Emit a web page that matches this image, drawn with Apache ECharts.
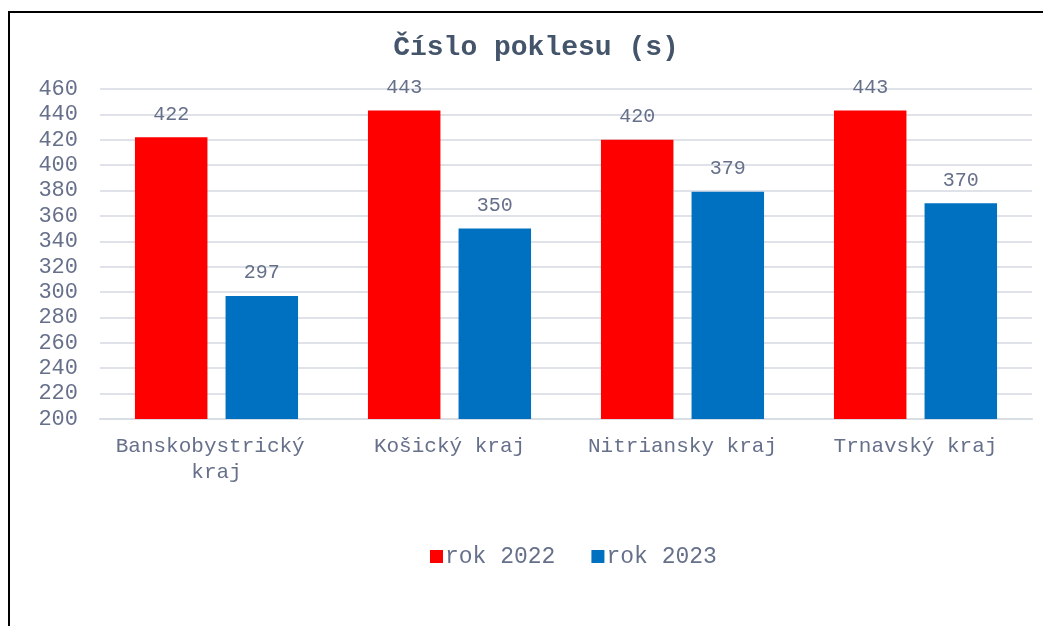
<!DOCTYPE html>
<html>
<head>
<meta charset="utf-8">
<script src="https://cdn.jsdelivr.net/npm/echarts@6/dist/echarts.min.js"></script>
<style>
  html, body { margin: 0; padding: 0; background: #fff; }
  #frame { position: absolute; left: 8px; top: 11px; width: 1100px; height: 700px;
           border-left: 2px solid #000; border-top: 2px solid #000; }
  #chart { position: absolute; left: 0; top: 0; width: 1043px; height: 626px; }
</style>
</head>
<body>
<div id="frame"></div>
<div id="chart"></div>
<script>
  const regions = ['Banskobystrický kraj', 'Košický kraj', 'Nitriansky kraj', 'Trnavský kraj'];
  const rok2022 = [422, 443, 420, 443];
  const rok2023 = [297, 350, 379, 370];
  const seriesNames = ['rok 2022', 'rok 2023'];

  const font = '"Liberation Mono", "DejaVu Sans Mono", monospace';
  const textColor = '#66708a';

  const myChart = echarts.init(document.getElementById('chart'));
  let option = {
    animation: false,
    title: {
      text: 'Číslo poklesu (s)',
      left: 531,
      top: 29,
      textAlign: 'center',
      textStyle: { fontFamily: font, fontSize: 28, fontWeight: 'bold', color: '#44546a' }
    },
    legend: {
      data: seriesNames,
      left: 425,
      top: 540,
      itemWidth: 13,
      itemHeight: 13,
      itemGap: 36,
      icon: 'rect',
      textStyle: { fontFamily: font, fontSize: 23, color: textColor, padding: [0, 0, 0, -3] }
    },
    grid: { left: 100, right: 11, top: 89, bottom: 207 },
    xAxis: {
      type: 'category',
      data: regions,
      axisLine: { lineStyle: { color: '#d9dde4', width: 2 } },
      axisTick: { show: false },
      axisLabel: {
        fontFamily: font, fontSize: 21, color: textColor, margin: 14,
        lineHeight: 26, width: 220, overflow: 'break', interval: 0
      }
    },
    yAxis: {
      type: 'value',
      min: 200,
      max: 460,
      interval: 20,
      axisLine: { show: false },
      axisTick: { show: false },
      splitLine: { lineStyle: { color: '#dfe2e8', width: 2 } },
      axisLabel: { fontFamily: font, fontSize: 22, color: textColor, margin: 22 }
    },
    series: [
      {
        name: seriesNames[0],
        type: 'bar',
        data: rok2022,
        itemStyle: { color: '#ff0000' },
        barGap: '25%',
        barCategoryGap: '30%',
        label: { show: true, position: 'top', distance: 13, fontFamily: font, fontSize: 20, color: textColor }
      },
      {
        name: seriesNames[1],
        type: 'bar',
        data: rok2023,
        itemStyle: { color: '#0070c0' },
        label: { show: true, position: 'top', distance: 13, fontFamily: font, fontSize: 20, color: textColor }
      }
    ]
  };
  myChart.setOption(option);
</script>
</body>
</html>
